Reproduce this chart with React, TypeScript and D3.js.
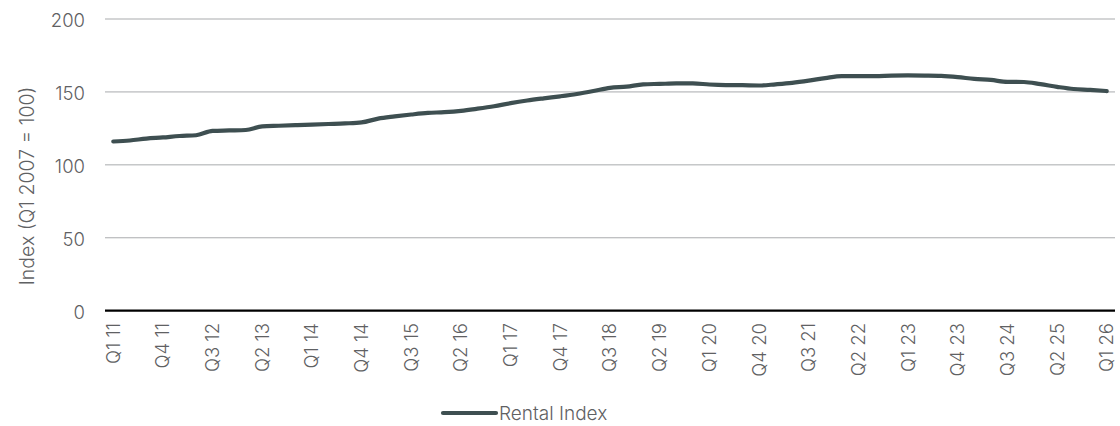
import React from "react";
import * as d3 from "d3";

// Quarterly periods from Q1 2011 to Q1 2026
const startYear = 2011;
const endYear = 2026;
const quarters: string[] = [];
for (let y = startYear; y <= endYear; y++) {
  for (let q = 1; q <= 4; q++) {
    if (y === endYear && q > 1) break;
    quarters.push(`Q${q} ${String(y).slice(2)}`);
  }
}

// Labelled ticks (every third quarter)
const tickLabels = [
  "Q1 11", "Q4 11", "Q3 12", "Q2 13", "Q1 14", "Q4 14", "Q3 15", "Q2 16",
  "Q1 17", "Q4 17", "Q3 18", "Q2 19", "Q1 20", "Q4 20", "Q3 21", "Q2 22",
  "Q1 23", "Q4 23", "Q3 24", "Q2 25", "Q1 26",
];

// Rental index (Q1 2007 = 100)
const rentalIndex = [
  116.0, 116.7, 118.0, 118.8, 119.8, 120.3, 123.3, 123.6, 123.9, 126.4,
  126.8, 127.2, 127.6, 128.0, 128.4, 129.1, 131.7, 133.2, 134.5, 135.6,
  136.1, 137.0, 138.5, 140.2, 142.3, 144.1, 145.6, 147.0, 148.6, 150.6,
  152.8, 153.6, 155.2, 155.5, 155.8, 155.8, 155.1, 154.7, 154.6, 154.4,
  155.2, 156.2, 157.7, 159.5, 160.9, 160.9, 160.9, 161.2, 161.3, 161.2,
  161.0, 160.2, 158.9, 158.2, 156.9, 156.8, 155.3, 153.5, 152.0, 151.4,
  150.6,
];

const yTicks = [0, 50, 100, 150, 200];
const seriesName = "Rental Index";

const W = 1120;
const H = 426;
const FONT = "Inter, 'Open Sans', sans-serif";
const LINE = "#3e4f51";
const TEXT = "#5f6163";

export default function App() {
  const x = d3.scalePoint<string>().domain(quarters).range([105, 1115]).padding(0.5);
  const y = d3.scaleLinear().domain([0, 200]).range([310.7, 19]);

  const line = d3
    .line<number>()
    .x((_, i) => x(quarters[i]) as number)
    .y((d) => y(d))
    .curve(d3.curveMonotoneX);

  return (
    <svg
      width={W}
      height={H}
      style={{ position: "absolute", left: 0, top: 0, background: "#fff" }}
      fontFamily={FONT}
    >
      {/* horizontal gridlines and y tick labels */}
      {yTicks.map((t) => (
        <g key={t}>
          {t !== 0 && (
            <line x1={105} x2={1115} y1={y(t)} y2={y(t)} stroke="#a9abad" strokeWidth={1} />
          )}
          <text
            x={85}
            y={y(t) + 1.5}
            dy="0.35em"
            textAnchor="end"
            fontSize={18.5}
            fontWeight={300}
            fill={TEXT}
          >
            {t}
          </text>
        </g>
      ))}

      {/* y-axis title */}
      <text
        transform={`translate(27, 186) rotate(-90)`}
        textAnchor="middle"
        dy="0.35em"
        fontSize={19.5}
        fontWeight={300}
        fill={TEXT}
      >
        Index (Q1 2007 = 100)
      </text>

      {/* baseline */}
      <line x1={105} x2={1115} y1={y(0)} y2={y(0)} stroke="#000" strokeWidth={2.2} />

      {/* x tick labels */}
      {tickLabels.map((lab) => (
        <text
          key={lab}
          transform={`translate(${x(lab)}, 323) rotate(-90)`}
          textAnchor="end"
          dy="0.35em"
          fontSize={18.5}
          fontWeight={300}
          fill={TEXT}
        >
          {lab}
        </text>
      ))}

      {/* series line */}
      <path
        d={line(rentalIndex) || ""}
        fill="none"
        stroke={LINE}
        strokeWidth={4.2}
        strokeLinecap="round"
        strokeLinejoin="round"
      />

      {/* legend */}
      <line x1={443} x2={496} y1={413} y2={413} stroke={LINE} strokeWidth={4.2} strokeLinecap="round" />
      <text x={499} y={413} dy="0.35em" fontSize={19} fontWeight={300} fill={TEXT}>
        {seriesName}
      </text>
    </svg>
  );
}
